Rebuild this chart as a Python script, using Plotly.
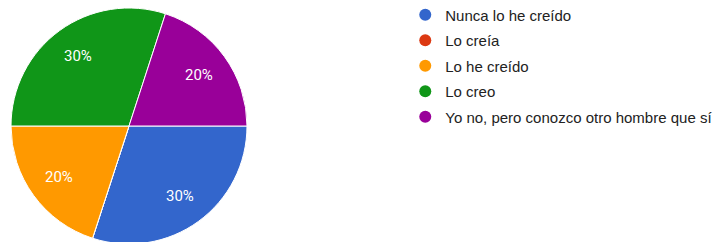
import math
import plotly.graph_objects as go

labels = ["Nunca lo he creído", "Lo creía", "Lo he creído", "Lo creo",
          "Yo no, pero conozco otro hombre que sí"]
values = [30, 0, 20, 30, 20]
colors = ["#3366cc", "#dc3912", "#ff9900", "#109618", "#990099"]

W, H = 726, 242
R = 118            # pie radius in px
CX, CY = 121, 118  # pie centre in px (from left / top of figure)
START = 90         # degrees clockwise from 12 o'clock

fig = go.Figure()
fig.add_trace(go.Pie(
    labels=labels, values=values, sort=False, direction="clockwise",
    rotation=START, showlegend=False,
    marker=dict(colors=colors, line=dict(color="white", width=1)),
    textinfo="none",
    hoverinfo="label+percent",
    domain=dict(x=[(CX - R) / W, (CX + R) / W], y=[(H - CY - R) / H, (H - CY + R) / H]),
))

# percentage labels placed at the middle angle of each slice
total = sum(values)
acc = 0
for v in values:
    if v > 0:
        mid = START + (acc + v / 2) / total * 360
        dx = math.sin(math.radians(mid)) * 0.73 * R
        dy = -math.cos(math.radians(mid)) * 0.73 * R
        fig.add_annotation(
            x=(CX + dx) / W, y=(H - CY - dy) / H, xref="paper", yref="paper",
            xanchor="center", yanchor="middle",
            text=f"{round(v / total * 100)}%", showarrow=False,
            font=dict(color="white", size=15, family="Roboto"),
        )
    acc += v

for i, (lab, col) in enumerate(zip(labels, colors)):
    fig.add_trace(go.Scatter(
        x=[None], y=[None], mode="markers", name=lab, legendgroup=str(i),
        marker=dict(symbol="circle", size=16, color=col),
        showlegend=True,
    ))

fig.update_layout(
    width=W, height=H,
    margin=dict(l=0, r=0, t=0, b=0, autoexpand=False),
    paper_bgcolor="white", plot_bgcolor="white",
    xaxis=dict(visible=False), yaxis=dict(visible=False),
    legend=dict(x=0.5472, y=0.760, xanchor="left", yanchor="middle",
                font=dict(family="Arial", size=15, color="#222222"),
                tracegroupgap=3, itemsizing="constant", bgcolor="rgba(0,0,0,0)"),
    font=dict(family="Roboto"),
)
fig.write_html("out.html")
